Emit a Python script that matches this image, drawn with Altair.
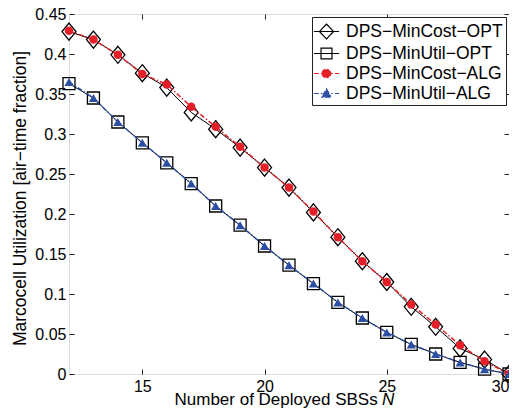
import altair as alt
import pandas as pd

# ---- data ----
n_sbs = list(range(12, 31))
mincost_opt = [0.428, 0.418, 0.399, 0.376, 0.358, 0.327, 0.306, 0.283, 0.258, 0.233,
               0.202, 0.171, 0.141, 0.115, 0.084, 0.059, 0.032, 0.018, 0.0]
minutil_opt = [0.363, 0.345, 0.315, 0.289, 0.264, 0.238, 0.210, 0.186, 0.160, 0.136,
               0.113, 0.0895, 0.070, 0.052, 0.037, 0.025, 0.0145, 0.006, 0.0]
mincost_alg = [0.429, 0.418, 0.399, 0.375, 0.362, 0.334, 0.309, 0.284, 0.258, 0.233,
               0.203, 0.171, 0.141, 0.115, 0.087, 0.062, 0.036, 0.016, 0.0]
minutil_alg = [0.365, 0.345, 0.315, 0.289, 0.264, 0.238, 0.210, 0.186, 0.160, 0.136,
               0.113, 0.0895, 0.070, 0.052, 0.037, 0.025, 0.0145, 0.006, 0.0]

series_names = ["DPS\u2212MinCost\u2212OPT", "DPS\u2212MinUtil\u2212OPT",
                "DPS\u2212MinCost\u2212ALG", "DPS\u2212MinUtil\u2212ALG"]
x_ticks = [15, 20, 25, 30]
y_ticks = [0, 0.05, 0.1, 0.15, 0.2, 0.25, 0.3, 0.35, 0.4, 0.45]

RED = "#e3202a"
BLUE = "#2d4fa3"
series_colors = ["black", "black", RED, BLUE]
series_fills = ["transparent", "transparent", RED, BLUE]
DASHDOT = [5, 2, 1.5, 2]
series_dash = [[1, 0], [1, 0], DASHDOT, DASHDOT]
legend_paths = [
    "M-1.2,0L1.2,0M0,-0.71L0.67,0L0,0.71L-0.67,0Z",
    "M-1.2,0L1.2,0M-0.52,-0.52L0.52,-0.52L0.52,0.52L-0.52,0.52Z",
    "M-1.2,0L1.2,0M-0.41,0A0.41,0.41 0 1,0 0.41,0A0.41,0.41 0 1,0 -0.41,0Z",
    "M-1.2,0L1.2,0M0,-0.43L0.45,0.35L-0.45,0.35Z",
]

rows = []
for name, vals in zip(series_names, [mincost_opt, minutil_opt, mincost_alg, minutil_alg]):
    for n, v in zip(n_sbs, vals):
        rows.append({"N": n, "value": v, "series": name})
df = pd.DataFrame(rows)

W, H = 440, 360
FONT = "Liberation Sans"
FS = 17.5      # legend / y title
XFS = 17       # x title
TFS = 16       # tick labels
TITLE_Y = 30.5
TITLE_X = 105
N_X = TITLE_X + 12.23 * XFS  # after "Number of Deployed SBSs "
xs = alt.Scale(domain=[12, 30], nice=False, zero=False)
ys = alt.Scale(domain=[0, 0.45], nice=False, zero=False)

base = alt.Chart(df)


def sel(name):
    return base.transform_filter(alt.datum.series == name)


x_main = alt.X("N:Q", scale=xs, axis=alt.Axis(
    orient="bottom", values=x_ticks, ticks=False, tickSize=0, domain=False, grid=False,
    labelFont=FONT, labelFontSize=TFS, labelColor="black", labelPadding=4,
    title="Number of Deployed SBSs", titleFont=FONT, titleFontSize=XFS,
    titleFontWeight="normal", titleColor="black", titleAlign="left",
    titleX=TITLE_X, titleY=TITLE_Y, titleBaseline="alphabetic"))
y_main = alt.Y("value:Q", scale=ys, axis=alt.Axis(
    orient="left", values=y_ticks, format="~g", ticks=False, tickSize=0, domain=False,
    grid=False, labelFont=FONT, labelFontSize=TFS, labelColor="black", labelPadding=3,
    title="Marcocell Utilization [air\u2212time fraction]", titleFont=FONT,
    titleFontSize=FS, titleFontWeight="normal", titleColor="black",
    titleAngle=270, titleAlign="center", titleX=-44, titleY=184,
    titleBaseline="alphabetic"))
x_none = alt.X("N:Q", scale=xs, axis=None)
y_none = alt.Y("value:Q", scale=ys, axis=None)

line_opt_cost = sel(series_names[0]).mark_line(color="black", strokeWidth=1).encode(x=x_main, y=y_main)
line_opt_util = sel(series_names[1]).mark_line(color="black", strokeWidth=1).encode(x=x_none, y=y_none)
pt_opt_cost = sel(series_names[0]).mark_point(
    shape="M0,-1L0.82,0L0,1L-0.82,0Z", size=289, color="black", filled=False,
    strokeWidth=1.3, opacity=1).encode(x=x_none, y=y_none)
pt_opt_util = sel(series_names[1]).mark_point(
    shape="square", size=144, color="black", filled=False,
    strokeWidth=1.3, opacity=1).encode(x=x_none, y=y_none)
line_alg_cost = sel(series_names[2]).mark_line(color=RED, strokeWidth=1.5, strokeDash=DASHDOT).encode(x=x_none, y=y_none)
line_alg_util = sel(series_names[3]).mark_line(color=BLUE, strokeWidth=1.5, strokeDash=DASHDOT).encode(x=x_none, y=y_none)
pt_alg_cost = sel(series_names[2]).mark_point(
    shape="circle", size=72, color=RED, filled=True, opacity=1).encode(x=x_none, y=y_none)
pt_alg_util = sel(series_names[3]).mark_point(
    shape="triangle-up", size=85, color=BLUE, filled=True, opacity=1).encode(x=x_none, y=y_none)

tick_common = dict(labels=False, domain=False, grid=False, ticks=True, tickSize=5,
                   tickColor="#222", tickWidth=1, title=None)
ticks_a = base.mark_point(opacity=0).encode(
    x=alt.X("N:Q", scale=xs, axis=alt.Axis(orient="top", offset=-H, values=x_ticks, **tick_common)),
    y=alt.Y("value:Q", scale=ys, axis=alt.Axis(orient="right", offset=-W, values=y_ticks, **tick_common)))
ticks_b = base.mark_point(opacity=0).encode(
    x=alt.X("N:Q", scale=xs, axis=alt.Axis(orient="bottom", offset=-H, values=x_ticks, **tick_common)),
    y=alt.Y("value:Q", scale=ys, axis=alt.Axis(orient="left", offset=-W, values=y_ticks, **tick_common)))

leg = alt.Legend(orient="top-right", offset=3, padding=3, strokeColor="#222",
                 fillColor="white", symbolSize=441, symbolStrokeWidth=1.2,
                 labelFont=FONT, labelFontSize=FS, labelColor="black", labelOffset=8,
                 rowPadding=0, title=None, labelLimit=400, symbolOpacity=1)
legend_layer = base.transform_filter("false").mark_point(opacity=1, strokeWidth=1.2).encode(
    shape=alt.Shape("series:N", scale=alt.Scale(domain=series_names, range=legend_paths), legend=leg),
    stroke=alt.Stroke("series:N", scale=alt.Scale(domain=series_names, range=series_colors), legend=leg),
    fill=alt.Fill("series:N", scale=alt.Scale(domain=series_names, range=series_fills), legend=leg),
    strokeDash=alt.StrokeDash("series:N", scale=alt.Scale(domain=series_names, range=series_dash), legend=leg),
)

n_label = alt.Chart(pd.DataFrame({"label": ["N"]})).mark_text(
    font=FONT, fontSize=XFS, fontStyle="italic", align="left", baseline="alphabetic",
    color="black").encode(text="label:N", x=alt.value(N_X), y=alt.value(H + TITLE_Y))

chart = alt.layer(
    line_opt_cost, line_opt_util, pt_opt_cost, pt_opt_util,
    line_alg_cost, line_alg_util, pt_alg_cost, pt_alg_util,
    ticks_a, ticks_b, legend_layer, n_label,
).resolve_axis(x="independent", y="independent").properties(
    width=W, height=H,
    autosize=alt.AutoSizeParams(type="none"),
    padding={"left": 61, "top": 6, "right": 0, "bottom": 34},
).configure_view(stroke="#222", strokeWidth=1.2).configure(background="white")

chart.save("out.html", embed_options={"renderer": "svg", "actions": False})
